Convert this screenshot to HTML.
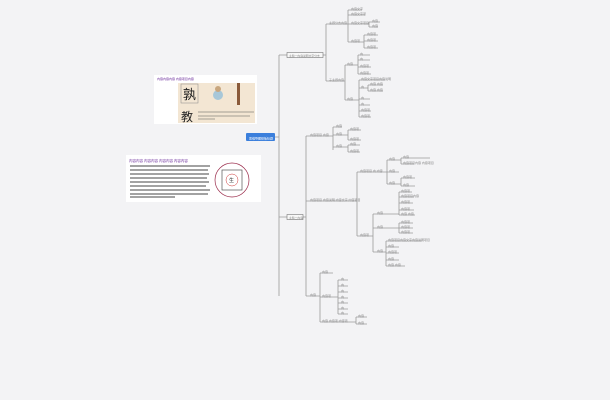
<!DOCTYPE html>
<html><head><meta charset="utf-8"><style>
html,body{margin:0;padding:0;background:#f3f3f5;}
svg{display:block}
text{font-family:"Liberation Sans","Noto Sans CJK SC",sans-serif;font-size:6px;fill:#888;transform:scale(0.5);transform-box:fill-box;transform-origin:left bottom}
text.big{transform:none}
</style></head><body>
<svg width="610" height="400" viewBox="0 0 610 400" xmlns="http://www.w3.org/2000/svg">
<rect width="610" height="400" fill="#f3f3f5"/>
<g stroke="#9a9a9a" stroke-width="0.8" fill="none">
<path d="M275 137 H279 M279 55 V296 M279 55 H287 M279 217 H287"/>
<path d="M323 55 H326 M326 24 V81 M326 24 H345 M326 81 H345"/>
<path d="M345 24 H348 M348 10 V42 M348 10 H362 M348 15 H365 M348 24 H368 M348 42 H361"/>
<path d="M368 24 H369 M369 22 V27 M369 22 H380 M369 27 H378"/>
<path d="M361 42 H364 M364 35 V48 M364 35 H378 M364 41 H378 M364 48 H378"/>
<path d="M345 65 V100 M345 65 H356 M345 100 H356"/>
<path d="M356 65 H358 M358 55 V74 M358 55 H370 M358 60 H370 M358 67 H371 M358 74 H371"/>
<path d="M356 100 H359 M359 80 V117 M359 80 H385 M359 88 H366 M359 99 H370 M359 105 H370 M359 111 H371 M359 117 H371"/>
<path d="M366 88 H368 M368 85 V91 M368 85 H383 M368 91 H383"/>
<path d="M303 217 H306 M306 136 V296 M306 136 H331 M306 201 H356 M306 296 H318"/>
<path d="M331 136 H333 M333 127 V150 M333 127 H342 M333 135 H346 M333 147 H346"/>
<path d="M346 135 H348 M348 130 V140 M348 130 H361 M348 140 H361"/>
<path d="M346 147 H348 M348 145 V152 M348 145 H360 M348 152 H360"/>
<path d="M356 201 H357 M357 172 V236 M357 172 H383 M357 236 H372"/>
<path d="M383 172 H387 M387 160 V184 M387 160 H399 M387 172 H399 M387 184 H399"/>
<path d="M399 160 H401 M401 158 V164 M401 158 H430 M401 164 H414"/>
<path d="M399 184 H401 M401 178 V186 M401 178 H415 M401 186 H415"/>
<path d="M372 236 H373 M373 214 V252 M373 214 H398 M373 228 H398 M373 252 H386"/>
<path d="M398 214 H399 M399 192 V215 M399 192 H412 M399 197 H414 M399 203 H413 M399 210 H414 M399 215 H415"/>
<path d="M398 228 H399 M399 223 V233 M399 223 H413 M399 228 H413 M399 233 H413"/>
<path d="M386 252 V241 M386 252 V266 M386 241 H422 M386 247 H399 M386 253 H399 M386 260 H399 M386 266 H405"/>
<path d="M318 296 H320 M320 273 V322 M320 273 H333 M320 297 H337 M320 322 H354"/>
<path d="M337 297 H338 M338 280 V314 M338 280 H348 M338 286 H348 M338 292 H348 M338 298 H348 M338 303 H348 M338 309 H348 M338 314 H348"/>
<path d="M354 322 H356 M356 317 V324 M356 317 H367 M356 324 H367"/>
</g>
<rect x="246" y="133" width="29" height="8" rx="1" fill="#3b7fdc"/>
<text x="249" y="138.5" style="fill:#fff;font-size:6px">思维导图模板标题</text>
<rect x="287" y="52.5" width="36" height="5" fill="#f7f7f7" stroke="#777" stroke-width="0.6"/>
<text x="289" y="56" style="font-size:5.6px">主题一内容说明文字分支</text>
<rect x="287" y="214.5" width="16" height="5" fill="#f7f7f7" stroke="#777" stroke-width="0.6"/>
<text x="289" y="218" style="font-size:5.6px">主题二内容</text>
<g>
<text x="329" y="23">主题分支内容</text><text x="329" y="80">子主题内容</text>
<text x="351" y="9">内容文字</text><text x="351" y="14">内容文字项</text><text x="351" y="23">内容文字项目</text><text x="351" y="41">内容项</text>
<text x="372" y="21">内容</text><text x="372" y="26">内容</text>
<text x="367" y="34">内容项</text><text x="367" y="40">内容项</text><text x="367" y="47">内容项</text>
<text x="347" y="64">内容</text><text x="347" y="99">内容</text>
<text x="360" y="54">内</text><text x="360" y="59">内</text><text x="360" y="66">内容项</text><text x="360" y="73">内容项</text>
<text x="361" y="79">内容文字项目内容说明</text><text x="361" y="87">内</text><text x="361" y="98">内</text><text x="361" y="104">内</text><text x="361" y="110">内容项</text><text x="361" y="116">内容项</text>
<text x="370" y="84">内容 内容</text><text x="370" y="90">内容 内容</text>
<text x="310" y="135">内容项目 内容</text><text x="310" y="200">内容项目 内容说明 内容文字 内容项目</text><text x="310" y="295">内容</text>
<text x="336" y="126">内容</text><text x="336" y="134">内容</text><text x="336" y="146">内容</text>
<text x="350" y="129">内容项</text><text x="350" y="139">内容项</text><text x="350" y="144">内容</text><text x="350" y="151">内容项</text>
<text x="360" y="171">内容项目 内 内容</text><text x="360" y="235">内容项</text>
<text x="389" y="159">内容</text><text x="389" y="171">内容</text><text x="389" y="183">内容</text>
<text x="403" y="157">内容</text><text x="403" y="163">内容项目内容 内容项目</text><text x="403" y="177">内容项</text><text x="403" y="185">内容</text>
<text x="377" y="213">内容</text><text x="377" y="227">内容</text><text x="377" y="251">内容</text>
<text x="401" y="191">内容项</text><text x="401" y="196">内容项目内容</text><text x="401" y="202">内容项</text><text x="401" y="209">内容项</text><text x="401" y="214">内容 内容</text>
<text x="401" y="222">内容项</text><text x="401" y="227">内容项</text><text x="401" y="232">内容项</text>
<text x="388" y="240">内容项目内容文字内容说明项目</text><text x="388" y="246">内容</text><text x="388" y="252">内容项</text><text x="388" y="259">内容</text><text x="388" y="265">内容 内容</text>
<text x="322" y="272">内容</text><text x="322" y="296">内容项</text><text x="322" y="321">内容 内容项 内容项</text>
<text x="341" y="279">内</text><text x="341" y="285">内</text><text x="341" y="291">内</text><text x="341" y="297">内</text><text x="341" y="302">内</text><text x="341" y="308">内</text><text x="341" y="313">内</text>
<text x="358" y="316">内容</text><text x="358" y="323">内容</text>
</g>
<rect x="154" y="75" width="103" height="49" fill="#fff"/>
<text x="157" y="79" style="fill:#6a2a9a;font-size:6px">内容内容内容 内容项目内容</text>
<rect x="178" y="83" width="77" height="40" fill="#f3e6d3"/>
<rect x="181" y="84" width="17" height="19" fill="none" stroke="#888" stroke-width="0.5"/>
<text class="big" x="183" y="99" style="fill:#222;font-size:13px">孰</text>
<text class="big" x="181" y="121" style="fill:#222;font-size:12px">教</text>
<circle cx="218" cy="95" r="5" fill="#a7c7d8"/>
<circle cx="218" cy="89" r="3" fill="#c8a67e"/>
<rect x="237" y="83" width="3" height="22" fill="#8a5a3a"/>
<g stroke="#555" stroke-width="0.6"><path d="M198 112 H254 M198 116 H250 M198 119 H215"/></g>
<rect x="126" y="155" width="135" height="47" fill="#fff"/>
<text x="129" y="161" style="fill:#6a2a9a;font-size:7px">内容内容 内容内容 内容内容 内容内容</text>
<g stroke="#444" stroke-width="0.9">
<path d="M130 166 H210 M130 170 H208 M130 174 H209 M130 178 H207 M130 182 H209 M130 186 H206 M130 190 H210 M130 194 H208 M130 197 H175"/>
</g>
<circle cx="232" cy="180" r="17" fill="none" stroke="#9a2a4a" stroke-width="0.7"/>
<rect x="222" y="170" width="20" height="20" fill="none" stroke="#555" stroke-width="0.7"/>
<circle cx="232" cy="180" r="6" fill="none" stroke="#c33" stroke-width="0.5"/>
<text class="big" x="229" y="182" style="fill:#333;font-size:5px">生</text>
</svg>
</body></html>
